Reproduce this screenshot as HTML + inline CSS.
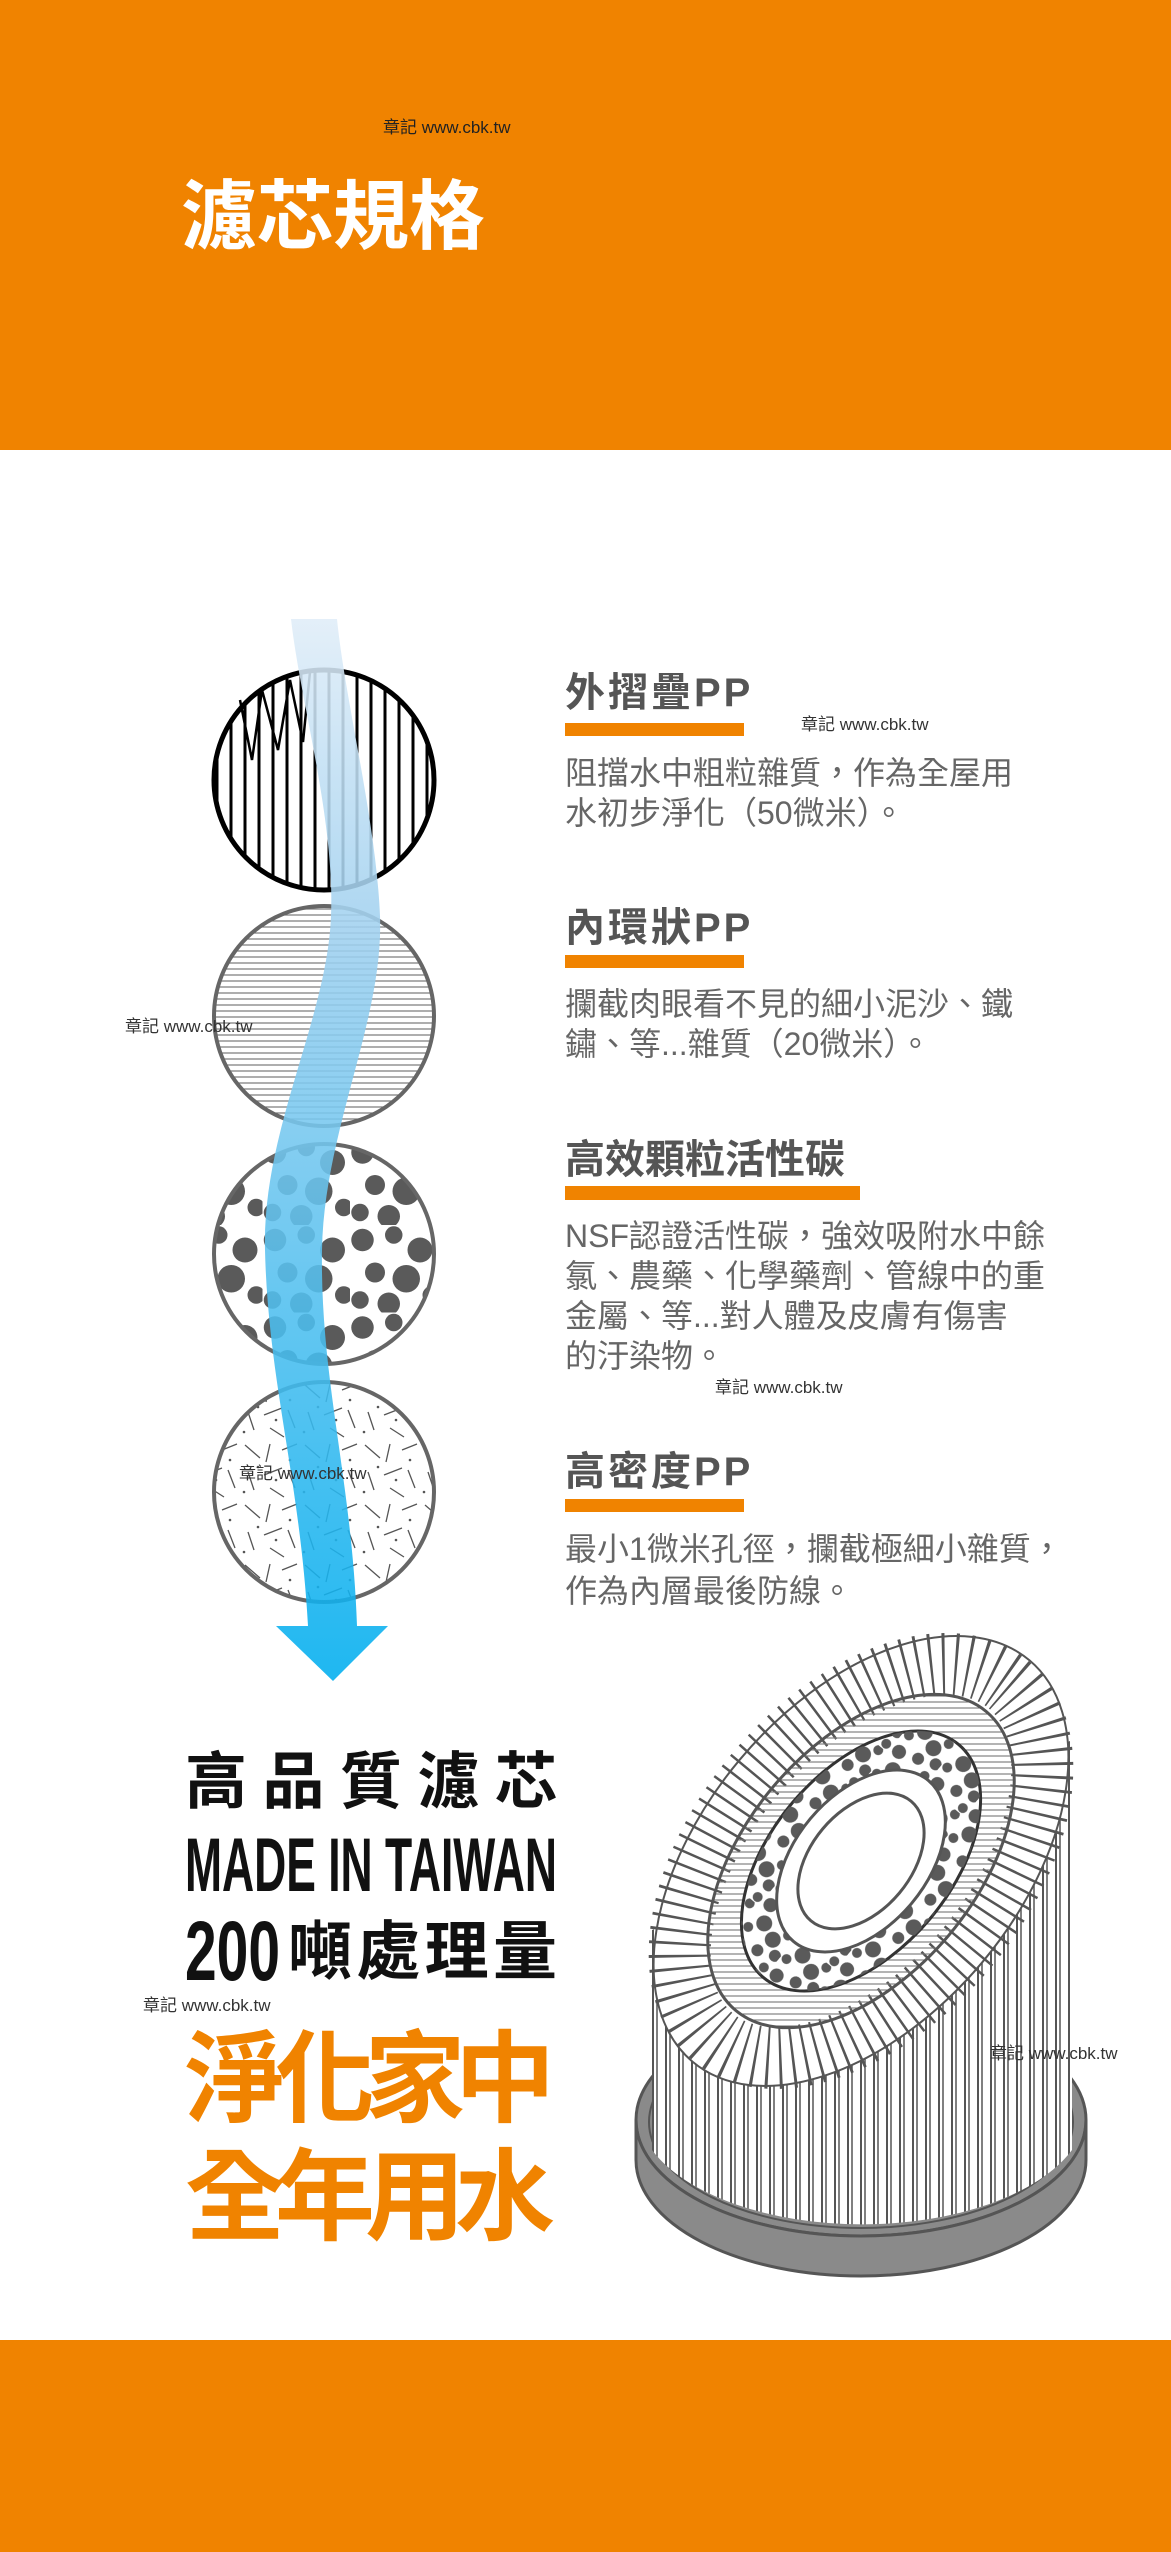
<!DOCTYPE html>
<html><head><meta charset="utf-8"><style>
html,body{margin:0;padding:0;background:#fff;}
svg{display:block;}
text{font-family:"Liberation Sans","Noto Sans CJK TC",sans-serif;}
</style></head><body>
<svg width="1171" height="2552" viewBox="0 0 1171 2552" xmlns="http://www.w3.org/2000/svg">
<defs>
<pattern id="vl" width="14" height="10" patternUnits="userSpaceOnUse"><line x1="7" y1="0" x2="7" y2="10" stroke="#000" stroke-width="3"/></pattern>
<pattern id="hl" width="10" height="6" patternUnits="userSpaceOnUse"><line x1="0" y1="3" x2="10" y2="3" stroke="#777" stroke-width="1.2"/></pattern>
<pattern id="hl2" width="10" height="6" patternUnits="userSpaceOnUse" patternTransform="rotate(50)"><line x1="0" y1="3" x2="10" y2="3" stroke="#777" stroke-width="1.1"/></pattern>
<pattern id="dots" width="70" height="70" patternUnits="userSpaceOnUse" patternTransform="scale(1.25)">
<circle cx="10" cy="12" r="9" fill="#5a5a5a"/><circle cx="35" cy="8" r="7" fill="#5a5a5a"/><circle cx="56" cy="20" r="10" fill="#5a5a5a"/><circle cx="20" cy="38" r="8" fill="#5a5a5a"/><circle cx="45" cy="43" r="11" fill="#5a5a5a"/><circle cx="65" cy="56" r="7" fill="#5a5a5a"/><circle cx="8" cy="60" r="7" fill="#5a5a5a"/><circle cx="31" cy="63" r="9" fill="#5a5a5a"/></pattern>
<pattern id="dots2" width="50" height="50" patternUnits="userSpaceOnUse">
<circle cx="8" cy="9" r="7" fill="#5a5a5a"/><circle cx="27" cy="6" r="5" fill="#5a5a5a"/><circle cx="40" cy="16" r="8" fill="#5a5a5a"/><circle cx="15" cy="28" r="6" fill="#5a5a5a"/><circle cx="33" cy="33" r="8" fill="#5a5a5a"/><circle cx="6" cy="44" r="5" fill="#5a5a5a"/><circle cx="22" cy="45" r="6" fill="#5a5a5a"/><circle cx="46" cy="42" r="5" fill="#5a5a5a"/></pattern>
<pattern id="str" width="60" height="60" patternUnits="userSpaceOnUse">
<g stroke="#555" stroke-width="1.3"><line x1="5" y1="5" x2="20" y2="18"/><line x1="30" y1="4" x2="26" y2="22"/><line x1="42" y1="10" x2="57" y2="4"/><line x1="8" y1="32" x2="14" y2="50"/><line x1="24" y1="35" x2="42" y2="28"/><line x1="48" y1="30" x2="55" y2="48"/><line x1="30" y1="48" x2="44" y2="57"/></g>
<circle cx="18" cy="27" r="1.3" fill="#555"/><circle cx="50" cy="20" r="1.3" fill="#555"/><circle cx="4" cy="52" r="1.3" fill="#555"/><circle cx="36" cy="40" r="1.3" fill="#555"/></pattern>
<pattern id="vlg" width="13" height="10" patternUnits="userSpaceOnUse"><rect width="13" height="10" fill="#fff"/><line x1="3" y1="0" x2="3" y2="10" stroke="#555" stroke-width="2"/><line x1="7" y1="0" x2="7" y2="10" stroke="#555" stroke-width="1.5"/></pattern>
<linearGradient id="ag" x1="0" y1="0" x2="0" y2="1"><stop offset="0" stop-color="#e0edf8"/><stop offset="0.3" stop-color="#9fd0ef"/><stop offset="1" stop-color="#00aeef"/></linearGradient>
<clipPath id="bodyc"><path d="M652,1930 L820,1860 L1072,1740 L1072,2150 A225,116 0 0 1 652,2150 Z"/></clipPath>
</defs>

<rect x="0" y="0" width="1171" height="450" fill="#f08300"/>
<rect x="0" y="2340" width="1171" height="212" fill="#f08300"/>
<text x="383" y="133" font-size="17" fill="#222">章記 www.cbk.tw</text>
<text x="181" y="243" font-size="76" font-weight="bold" fill="#fff" textLength="304">濾芯規格</text>

<circle cx="324" cy="780" r="110" fill="#fff"/>
<circle cx="324" cy="780" r="110" fill="url(#vl)"/>
<g stroke="#000" stroke-width="2.5" fill="none"><path d="M240,700 L252,760 L262,690 L278,750 L290,680 L303,742 L310,672"/></g>
<circle cx="324" cy="780" r="110" fill="none" stroke="#000" stroke-width="5"/>
<circle cx="324" cy="1016" r="110" fill="url(#hl)" stroke="#666" stroke-width="4"/>
<circle cx="324" cy="1254" r="110" fill="url(#dots)" stroke="#666" stroke-width="4"/>
<circle cx="324" cy="1492" r="110" fill="url(#str)" stroke="#666" stroke-width="4"/>

<path d="M291,619 C300,700 335,820 331,916 C327,1020 262,1130 265,1250 C268,1380 300,1480 308,1626 L276,1626 L333,1681 L388,1626 L357,1626 C352,1480 320,1380 322,1250 C324,1130 384,1020 380,916 C376,820 345,700 337,619 Z" fill="url(#ag)" opacity="0.88"/>

<text x="125" y="1032" font-size="17" fill="#333">章記 www.cbk.tw</text>
<text x="239" y="1479" font-size="17" fill="#333">章記 www.cbk.tw</text>

<g fill="#555" font-weight="bold" font-size="40">
<text x="565" y="706" letter-spacing="3">外摺疊PP</text>
<text x="565" y="941" letter-spacing="3">內環狀PP</text>
<text x="565" y="1173">高效顆粒活性碳</text>
<text x="565" y="1485" letter-spacing="3">高密度PP</text>
</g>
<g fill="#f08300">
<rect x="565" y="723" width="179" height="13"/>
<rect x="565" y="955" width="179" height="13"/>
<rect x="565" y="1186" width="295" height="14"/>
<rect x="565" y="1499" width="179" height="13"/>
</g>
<text x="801" y="730" font-size="17" fill="#333">章記 www.cbk.tw</text>
<g fill="#666" font-size="32">
<text x="565" y="784">阻擋水中粗粒雜質，作為全屋用</text>
<text x="565" y="824">水初步淨化（50微米）。</text>
<text x="565" y="1015">攔截肉眼看不見的細小泥沙、鐵</text>
<text x="565" y="1055">鏽、等...雜質（20微米）。</text>
<text x="565" y="1247">NSF認證活性碳，強效吸附水中餘</text>
<text x="565" y="1287">氯、農藥、化學藥劑、管線中的重</text>
<text x="565" y="1327">金屬、等...對人體及皮膚有傷害</text>
<text x="565" y="1367">的汙染物。</text>
<text x="565" y="1560">最小1微米孔徑，攔截極細小雜質，</text>
<text x="565" y="1602">作為內層最後防線。</text>
</g>
<text x="715" y="1393" font-size="17" fill="#333">章記 www.cbk.tw</text>

<text x="185" y="1803" font-size="62" font-weight="bold" fill="#111" textLength="372">高品質濾芯</text>
<text x="185" y="1891" font-size="76" font-weight="bold" fill="#111" textLength="372" lengthAdjust="spacingAndGlyphs">MADE IN TAIWAN</text>
<text x="185" y="1980" font-size="84" font-weight="bold" fill="#111" textLength="95" lengthAdjust="spacingAndGlyphs">200</text>
<text x="288" y="1974" font-size="64" font-weight="bold" fill="#111" textLength="269">噸處理量</text>
<text x="143" y="2011" font-size="17" fill="#333">章記 www.cbk.tw</text>
<text x="185" y="2114" font-size="100" font-weight="bold" fill="#f08300" textLength="370">淨化家中</text>
<text x="185" y="2232" font-size="100" font-weight="bold" fill="#f08300" textLength="370">全年用水</text>

<ellipse cx="861" cy="2120" rx="225" ry="116" fill="#8a8a8a" stroke="#555" stroke-width="3"/>
<ellipse cx="861" cy="2122" rx="212" ry="106" fill="none" stroke="#555" stroke-width="2"/>
<g clip-path="url(#bodyc)">
<rect x="652" y="1700" width="420" height="560" fill="url(#vlg)"/>
</g>
<path d="M636,2120 L636,2160 A225,116 0 0 0 1086,2160 L1086,2120 A225,116 0 0 1 636,2120 Z" fill="#8a8a8a" stroke="#555" stroke-width="3"/>
<g transform="translate(861,1861) rotate(-50)">
<ellipse rx="262" ry="158" fill="#fff" stroke="#555" stroke-width="2"/>
<ellipse rx="230" ry="137" fill="none" stroke="#555" stroke-width="62" stroke-dasharray="2.5 10"/>
<ellipse rx="195" ry="115" fill="url(#hl2)" stroke="#555" stroke-width="3"/>
<ellipse rx="152" ry="90" fill="#fff" stroke="#333" stroke-width="3"/>
<ellipse rx="152" ry="90" fill="url(#dots2)"/>
<ellipse rx="105" ry="66" fill="#fff" stroke="#555" stroke-width="3"/>
<ellipse rx="78" ry="50" fill="#fff" stroke="#555" stroke-width="3"/>
</g>
<text x="990" y="2059" font-size="17" fill="#333">章記 www.cbk.tw</text>
</svg>
</body></html>
